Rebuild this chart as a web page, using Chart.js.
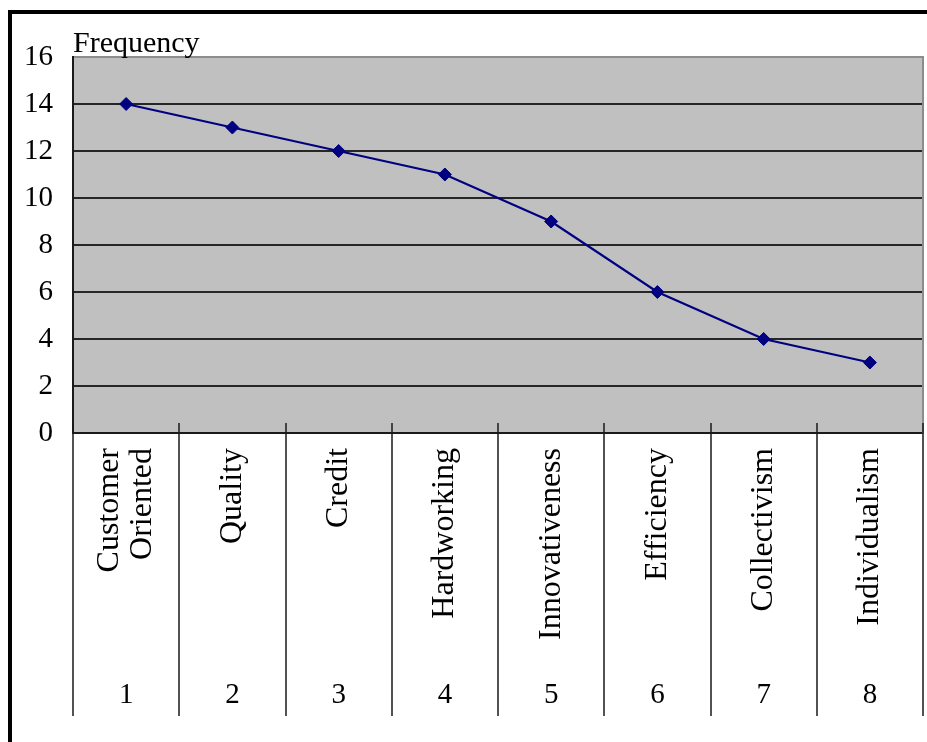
<!DOCTYPE html>
<html>
<head>
<meta charset="utf-8">
<script src="https://cdn.jsdelivr.net/npm/chart.js@4/dist/chart.umd.min.js"></script>
<style>
  html, body { margin: 0; padding: 0; background: #fff; }
  #wrap { position: relative; width: 927px; height: 742px; }
  #frame {
    position: absolute; left: 8px; top: 10px; right: 0; bottom: 0;
    border-left: 4px solid #000; border-top: 4px solid #000;
    pointer-events: none;
  }
</style>
</head>
<body>
<div id="wrap">
  <canvas id="c" width="927" height="742"></canvas>
  <div id="frame"></div>
</div>
<script>
// Values shown on the chart
const categories = [['Customer', 'Oriented'], 'Quality', 'Credit', 'Hardworking',
                    'Innovativeness', 'Efficiency', 'Collectivism', 'Individualism'];
const categoryNumbers = ['1', '2', '3', '4', '5', '6', '7', '8'];
const frequency = [14, 13, 12, 11, 9, 6, 4, 3];
const yTickValues = [0, 2, 4, 6, 8, 10, 12, 14, 16];

const SERIF = "'Liberation Serif', 'Times New Roman', serif";

// Category scale that centres multi-line rotated labels on their tick
class CenteredCategoryScale extends Chart.CategoryScale {
  _computeLabelItems(chartArea) {
    const items = super._computeLabelItems(chartArea);
    items.forEach(it => {
      if (Array.isArray(it.label) && it.label.length > 1) {
        it.textOffset -= (it.label.length - 1) * it.font.lineHeight / 2;
      }
    });
    return items;
  }
}
CenteredCategoryScale.id = 'centeredCategory';
CenteredCategoryScale.defaults = Chart.CategoryScale.defaults;
Chart.register(CenteredCategoryScale);

// Grey plot background
const plotBackground = {
  id: 'plotBackground',
  beforeDraw(chart) {
    const { ctx, chartArea: a } = chart;
    ctx.save();
    ctx.fillStyle = '#c0c0c0';
    ctx.fillRect(a.left, a.top, a.right - a.left, a.bottom - a.top);
    ctx.restore();
  }
};

// Category separators: short ticks inside the plot, long rules through the label rows
const separators = {
  id: 'separators',
  afterDraw(chart) {
    const { ctx, chartArea: a } = chart;
    const xs = chart.scales.x, x2 = chart.scales.x2;
    ctx.save();
    ctx.strokeStyle = '#1a1a1a';
    ctx.lineWidth = 1.5;
    ctx.beginPath();
    for (let i = 0; i <= categories.length; i++) {
      const px = Math.round(xs.getPixelForValue(i - 0.5));
      ctx.moveTo(px, a.bottom - 10);
      ctx.lineTo(px, x2.bottom);
    }
    ctx.stroke();
    ctx.restore();
  }
};

const noSidePadding = s => { s.paddingLeft = 0; s.paddingRight = 0; };

new Chart(document.getElementById('c'), {
  type: 'line',
  data: {
    labels: categories,
    datasets: [{
      data: frequency,
      borderColor: '#000080',
      borderWidth: 2.2,
      pointStyle: 'rectRot',
      pointRadius: 6.5,
      pointBackgroundColor: '#000080',
      pointBorderColor: '#000080',
      pointBorderWidth: 1,
      tension: 0,
      clip: false
    }]
  },
  options: {
    responsive: false,
    devicePixelRatio: 1,
    animation: false,
    layout: { autoPadding: false, padding: { top: 26, left: 0, right: 0, bottom: 26 } },
    plugins: {
      legend: { display: false },
      tooltip: { enabled: false },
      title: {
        display: true,
        text: 'Frequency',
        align: 'start',
        fullSize: false,
        color: '#000',
        font: { family: SERIF, size: 30, weight: 'normal' },
        padding: { top: 0, bottom: -5 }
      }
    },
    scales: {
      x: {
        type: 'centeredCategory',
        position: 'bottom',
        weight: 0,
        offset: true,
        grid: { display: false },
        border: { display: true, color: '#1a1a1a', width: 2 },
        ticks: {
          autoSkip: false,
          minRotation: 90,
          maxRotation: 90,
          padding: 7,
          color: '#000',
          font: { family: SERIF, size: 32, lineHeight: 1.04 }
        },
        afterFit(s) { s.height = 214; noSidePadding(s); }
      },
      x2: {
        type: 'category',
        labels: categoryNumbers,
        position: 'bottom',
        weight: 1,
        offset: true,
        grid: { display: false },
        border: { display: false },
        ticks: {
          autoSkip: false,
          maxRotation: 0,
          padding: 23,
          color: '#000',
          font: { family: SERIF, size: 29 }
        },
        afterFit(s) { s.height = 69; noSidePadding(s); }
      },
      y: {
        min: 0,
        max: 16,
        afterBuildTicks(s) { s.ticks = yTickValues.map(v => ({ value: v })); },
        grid: {
          drawTicks: false,
          lineWidth: 2,
          color: c => (c.tick && c.tick.value === 16) ? '#8c8c8c' : '#262626'
        },
        border: { display: true, color: '#1a1a1a', width: 2 },
        ticks: {
          padding: 20,
          color: '#000',
          font: { family: SERIF, size: 29 }
        },
        afterFit(s) { s.width = 73; }
      },
      yRight: {
        position: 'right',
        min: 0,
        max: 16,
        grid: { drawOnChartArea: false, drawTicks: false },
        border: { display: true, color: '#8c8c8c', width: 2 },
        ticks: { display: false },
        afterFit(s) { s.width = 4; }
      }
    }
  },
  plugins: [plotBackground, separators]
});
</script>
</body>
</html>
